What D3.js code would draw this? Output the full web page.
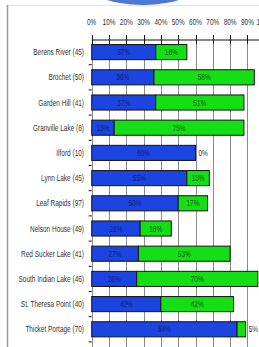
<!DOCTYPE html>
<html>
<head>
<meta charset="utf-8">
<script src="https://cdn.jsdelivr.net/npm/d3@7"></script>
<style>
  html, body { margin: 0; padding: 0; background: #fff; }
  svg { display: block; font-family: "Liberation Sans", Arial, sans-serif; }
</style>
</head>
<body>
<div id="chart"></div>
<script>
// community labels with respondent counts
const categories = [
    "Berens River (45)", "Brochet (50)", "Garden Hill (41)", "Granville Lake (8)",
    "Ilford (10)", "Lynn Lake (45)", "Leaf Rapids (97)", "Nelson House (49)",
    "Red Sucker Lake (41)", "South Indian Lake (46)", "St. Theresa Point (40)",
    "Thicket Portage (70)"
];
const blueValues = [37, 36, 37, 13, 60, 55, 50, 28, 27, 26, 40, 84];
const greenValues = [18, 58, 51, 75, 0, 13, 17, 18, 53, 70, 42, 5];
const xTicks = [0, 10, 20, 30, 40, 50, 60, 70, 80, 90, 100];

const width = 259, height = 347;
const squeeze = 0.72; // narrow font look

const svg = d3.select("#chart").append("svg")
    .attr("width", width)
    .attr("height", height);

// frame bits from the original screenshot
svg.append("ellipse")
    .attr("cx", 143).attr("cy", -20)
    .attr("rx", 60).attr("ry", 25)
    .attr("fill", "#4a78d8");
svg.append("line")
    .attr("x1", 7).attr("x2", width).attr("y1", 5.5).attr("y2", 5.5)
    .attr("stroke", "#e2e2e2");
svg.append("line")
    .attr("x1", 7.5).attr("x2", 7.5).attr("y1", 5).attr("y2", height)
    .attr("stroke", "#9a9a9a").attr("stroke-width", 1.5);

const x = d3.scaleLinear().domain([0, 100]).range([91.7, 264.7]);
const y = d3.scaleBand().domain(categories)
    .range([39.5, 341.9])
    .paddingInner(0.4)
    .paddingOuter(0.2);

// vertical gridlines
svg.append("g").selectAll("line").data(xTicks).enter().append("line")
    .attr("x1", d => Math.round(x(d)) + 0.5)
    .attr("x2", d => Math.round(x(d)) + 0.5)
    .attr("y1", 40).attr("y2", height)
    .attr("stroke", "#8a8a8a");

// top axis
const axis = svg.append("g").attr("transform", "translate(0,40)");
axis.append("line")
    .attr("x1", x(0)).attr("x2", width)
    .attr("stroke", "#111").attr("stroke-width", 1.2);
axis.selectAll("line.tick").data(xTicks).enter().append("line")
    .attr("class", "tick")
    .attr("x1", d => Math.round(x(d)) + 0.5)
    .attr("x2", d => Math.round(x(d)) + 0.5)
    .attr("y1", -5).attr("y2", 4)
    .attr("stroke", "#111");
axis.selectAll("text").data(xTicks).enter().append("text")
    .attr("transform", d => `translate(${x(d)},-15) scale(${squeeze},1)`)
    .attr("text-anchor", "middle")
    .attr("font-size", 9)
    .attr("fill", "#333")
    .text(d => d + "%");

// left axis tick marks at band boundaries
const step = y.step();
const bounds = d3.range(categories.length + 1).map(i => 39.5 + i * step);
svg.append("g").selectAll("line").data(bounds.slice(1)).enter().append("line")
    .attr("x1", x(0) - 3).attr("x2", x(0))
    .attr("y1", d => d).attr("y2", d => d)
    .attr("stroke", "#111");

// category labels
svg.append("g").selectAll("text").data(categories).enter().append("text")
    .attr("transform", d => `translate(84,${y(d) + y.bandwidth() / 2 + 3}) scale(${squeeze},1)`)
    .attr("text-anchor", "end")
    .attr("font-size", 9)
    .attr("fill", "#333")
    .text(d => d);

// stacked bars
const rows = categories.map((c, i) => ({
    name: c,
    segs: [
        { start: 0, value: blueValues[i], fill: "#1c44e0", text: "#0d1f7a" },
        { start: blueValues[i], value: greenValues[i], fill: "#14de14", text: "#0c560c" }
    ]
}));

const bars = svg.append("g").selectAll("g").data(rows).enter().append("g")
    .attr("transform", d => `translate(0,${y(d.name)})`);

bars.selectAll("rect").data(d => d.segs.filter(s => s.value > 0)).enter().append("rect")
    .attr("x", s => x(s.start))
    .attr("width", s => x(s.start + s.value) - x(s.start))
    .attr("height", y.bandwidth())
    .attr("fill", s => s.fill)
    .attr("stroke", "#151515")
    .attr("stroke-width", 1);

bars.selectAll("text").data(d => d.segs).enter().append("text")
    .attr("transform", s => {
        const small = s.value < 6;
        const tx = small ? x(s.start + s.value) + 3 : x(s.start + s.value / 2);
        return `translate(${tx},${y.bandwidth() / 2 + 3}) scale(${squeeze},1)`;
    })
    .attr("text-anchor", s => s.value < 6 ? "start" : "middle")
    .attr("font-size", 9)
    .attr("fill", s => s.value < 6 ? "#333" : s.text)
    .text(s => s.value + "%");
</script>
</body>
</html>
